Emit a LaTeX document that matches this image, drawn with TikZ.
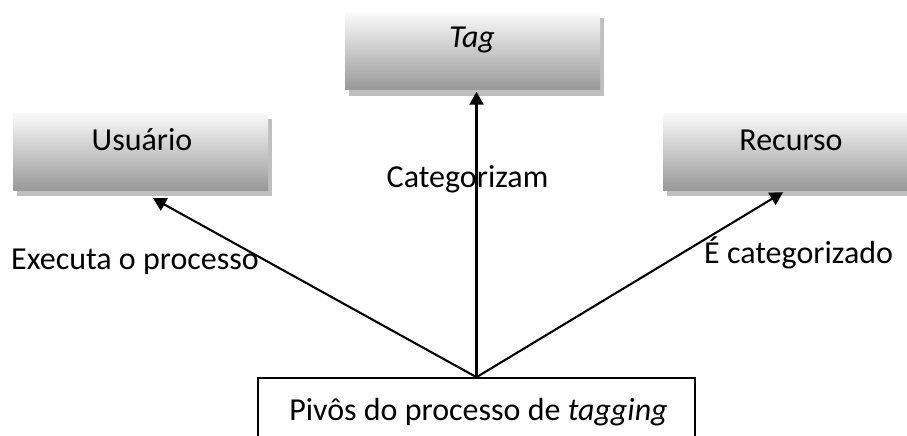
\documentclass[tikz,border=0pt]{standalone}
\usepackage{fontspec}
\setmainfont{Carlito}
\usetikzlibrary{arrows.meta,shadows,calc}
\begin{document}
\begin{tikzpicture}[x=1pt,y=-1pt,
  gbox/.style={minimum width=255pt, minimum height=77pt, inner sep=0pt,
    top color=black!2, bottom color=black!40, draw=none,
    drop shadow={shadow xshift=4pt, shadow yshift=-6pt, fill=black!25, opacity=1}},
  pbox/.style={minimum width=437pt, minimum height=88pt, inner sep=0pt, draw=black, line width=1.6pt, fill=white},
  lbl/.style={anchor=base, font=\fontsize{32}{36}\selectfont, inner sep=0pt},
  arr/.style={line width=2.1pt, -{Triangle[length=13pt,width=14pt]}}]
\fill[white] (0,0) rectangle (907,436);
\useasboundingbox (0,0) rectangle (907,436);
\clip (0,0) rectangle (907,436);
% boxes
\node[gbox] (usu) at (140.5,151.5) {};
\node[gbox] (tag) at (472.5,51) {};
\node[gbox, minimum width=256pt] (rec) at (791,151.5) {};
\node[pbox] (piv) at (476.5,422) {};
% texts
\node[lbl] (tusu) at (142,150) {Usuário};
\node[lbl] (ttag) at (472,48) {\itshape Tag};
\node[lbl] (trec) at (791,150) {Recurso};
\node[lbl] (tpiv) at (478.5,420) {Pivôs do processo de \textit{tagging}};
% arrows
\draw[arr] (piv.north) -- ($(usu.south)+(12.5,8)$);
\draw[arr] (piv.north) -- ($(piv.north |- tag.south)+(0,2)$);
\draw[arr] (piv.north) -- ($(rec.south)+(-8,2)$);
% arrow labels
\node[lbl] (lcat) at (467.5,187) {Categorizam};
\node[lbl, anchor=base west] (lexe) at (11,269) {Executa o processo};
\node[lbl, anchor=base west] (lrec) at (704,263) {É categorizado};
\end{tikzpicture}
\end{document}
